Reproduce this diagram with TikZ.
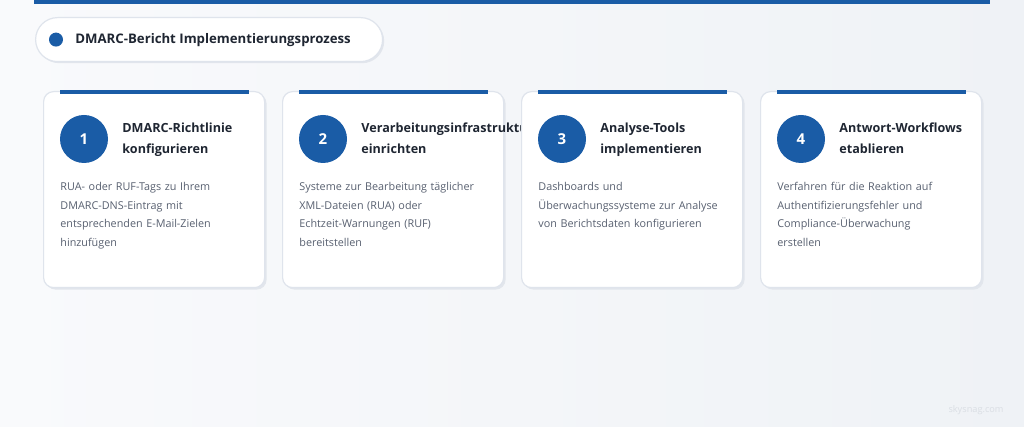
\documentclass[tikz,border=0pt]{standalone}
\usepackage{fontspec}
\setmainfont{Open Sans}
\usetikzlibrary{positioning, calc, shadows}
\definecolor{bglight}{RGB}{249,250,252}
\definecolor{bgdark}{RGB}{239,242,246}
\definecolor{accentcolor}{RGB}{26,92,166}
\definecolor{headcolor}{RGB}{31,38,50}
\definecolor{textcolor}{RGB}{88,96,112}
\definecolor{bordercolor}{RGB}{223,228,236}
\definecolor{shadowcolor}{RGB}{226,230,236}
\definecolor{markcolor}{RGB}{218,222,228}

\begin{document}
\begin{tikzpicture}[
    x=0.5pt, y=-0.5pt,
    node distance=8.4pt,
    card/.style={rectangle, draw=bordercolor, fill=white, rounded corners=5pt, minimum width=110.5pt, minimum height=98pt, line width=0.6pt, inner sep=0pt,
        drop shadow={shadow xshift=1pt, shadow yshift=-1pt, fill=shadowcolor, opacity=1}},
    pill/.style={rectangle, draw=bordercolor, fill=white, rounded corners=11pt, minimum width=173.5pt, minimum height=22pt, line width=0.6pt, inner sep=0pt,
        drop shadow={shadow xshift=0.8pt, shadow yshift=-0.8pt, fill=shadowcolor, opacity=1}},
    numcircle/.style={circle, fill=accentcolor, minimum size=24pt, inner sep=0pt, text=white, font=\bfseries\fontsize{7.5}{9}\selectfont},
    cardtitle/.style={anchor=base west, inner sep=0pt, text width=75pt, align=left, text=headcolor, font=\bfseries\fontsize{6.3}{10.5}\selectfont},
    carddesc/.style={anchor=base west, inner sep=0pt, text width=96pt, align=left, text=textcolor, font=\fontsize{5.4}{9.25}\selectfont},
    accent/.style={accentcolor, line width=1.6pt}
]

% ========== BACKGROUND ==========
\useasboundingbox (0,0) rectangle (1024,427);
\shade[left color=bglight, right color=bgdark] (0,0) rectangle (1024,427);
\node[fill=accentcolor, minimum width=478pt, minimum height=2pt, inner sep=0pt, anchor=north west] (topbar) at (34,0) {};

% ========== TITLE ==========
\node[pill, anchor=north west] (titlebox) at (35,17) {};
\node[circle, fill=accentcolor, minimum size=7pt, inner sep=0pt] (dot) at ($(titlebox.west)+(21,0)$) {};
\node[anchor=base west, inner sep=0pt, text=headcolor, font=\bfseries\fontsize{6.6}{9}\selectfont] (title) at ($(titlebox.north west)+(40,27)$) {DMARC-Bericht Implementierungsprozess};

% ========== STEP 1 ==========
\node[card, anchor=north west] (card1) at (43,91) {};
\draw[accent] ($(card1.north west)+(17,1)$) -- ($(card1.north east)+(-16,1)$);
\node[numcircle] (num1) at ($(card1.north west)+(41,48)$) {1};
\node[cardtitle] (head1) at ($(card1.north west)+(79,42)$) {DMARC-Richtlinie\\konfigurieren};
\node[carddesc] (desc1) at ($(card1.north west)+(17,100)$) {RUA- oder RUF-Tags zu Ihrem\\DMARC-DNS-Eintrag mit\\entsprechenden E-Mail-Zielen\\hinzufügen};

% ========== STEP 2 ==========
\node[card, right=of card1] (card2) {};
\draw[accent] ($(card2.north west)+(17,1)$) -- ($(card2.north east)+(-16,1)$);
\node[numcircle] (num2) at ($(card2.north west)+(41,48)$) {2};
\node[cardtitle] (head2) at ($(card2.north west)+(79,42)$) {Verarbeitungsinfrastruktur\\einrichten};
\node[carddesc] (desc2) at ($(card2.north west)+(17,100)$) {Systeme zur Bearbeitung täglicher\\XML-Dateien (RUA) oder\\Echtzeit-Warnungen (RUF)\\bereitstellen};

% ========== STEP 3 ==========
\node[card, right=of card2] (card3) {};
\draw[accent] ($(card3.north west)+(17,1)$) -- ($(card3.north east)+(-16,1)$);
\node[numcircle] (num3) at ($(card3.north west)+(41,48)$) {3};
\node[cardtitle] (head3) at ($(card3.north west)+(79,42)$) {Analyse-Tools\\implementieren};
\node[carddesc] (desc3) at ($(card3.north west)+(17,100)$) {Dashboards und\\Überwachungssysteme zur Analyse\\von Berichtsdaten konfigurieren};

% ========== STEP 4 ==========
\node[card, right=of card3] (card4) {};
\draw[accent] ($(card4.north west)+(17,1)$) -- ($(card4.north east)+(-16,1)$);
\node[numcircle] (num4) at ($(card4.north west)+(41,48)$) {4};
\node[cardtitle] (head4) at ($(card4.north west)+(79,42)$) {Antwort-Workflows\\etablieren};
\node[carddesc] (desc4) at ($(card4.north west)+(17,100)$) {Verfahren für die Reaktion auf\\Authentifizierungsfehler und\\Compliance-Überwachung\\erstellen};

% ========== WATERMARK ==========
\node[text=markcolor, font=\fontsize{4.6}{5}\selectfont] (mark) at (976,410) {skysnag.com};

\end{tikzpicture}
\end{document}
